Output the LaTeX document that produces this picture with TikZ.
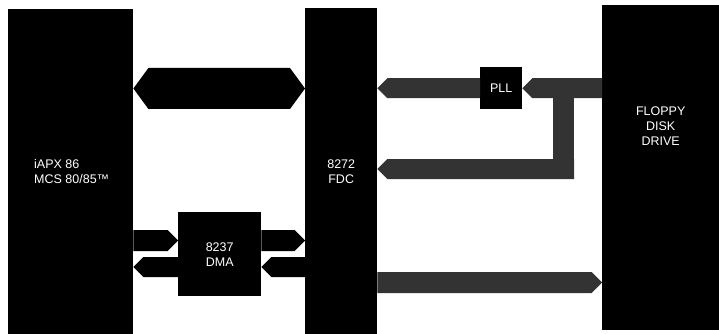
\documentclass[tikz,border=0pt]{standalone}
\usepackage{fontspec}
\setmainfont{Liberation Sans}
\usetikzlibrary{calc}
\newcommand{\lbl}{\fontsize{12.5}{15}\selectfont}
\tikzset{
  blk/.style={fill=black, inner sep=0pt, text=white, font=\lbl, align=center},
  inlbl/.style={text=white, font=\lbl, inner sep=0pt},
  onehead/.style={to path={let \p1=(\tikztostart), \p2=(\tikztotarget), \n1={sign(\x2-\x1)} in
      (\x1,\y1+#1) -- (\x2-\n1*#1,\y1+#1) -- (\x2,\y1) -- (\x2-\n1*#1,\y1-#1) -- (\x1,\y1-#1) -- cycle}},
  onehead/.default=10pt,
  twohead/.style 2 args={to path={let \p1=(\tikztostart), \p2=(\tikztotarget), \n1={sign(\x2-\x1)} in
      (\x1,\y1) -- (\x1+\n1*#2,\y1+#1) -- (\x2-\n1*#2,\y1+#1) -- (\x2,\y1)
      -- (\x2-\n1*#2,\y1-#1) -- (\x1+\n1*#2,\y1-#1) -- cycle}},
  dark/.style={fill=black},
  grey/.style={fill=black!80},
  trunk/.style={draw=black!80, line width=21pt},
}

\begin{document}
\begin{tikzpicture}[x=1pt, y=-1pt]
  \useasboundingbox (0,0) rectangle (719,334);
  % blocks
  \node[blk, anchor=north west, minimum width=125, minimum height=325,
    label={[inlbl, align=left, anchor=west, xshift=26]west:iAPX 86\\MCS 80/85™}] (cpu) at (8,9) {};
  \node[blk, anchor=north west, minimum width=72, minimum height=326] (fdc) at (305,8) {8272\\FDC};
  \node[blk, anchor=north west, minimum width=117, minimum height=325,
    label={[inlbl, align=center, anchor=north, yshift=-102]north:FLOPPY\\DISK\\DRIVE}] (fdd) at (602,5) {};
  \node[blk, anchor=north west, minimum width=83, minimum height=84] (dma) at (178,212) {8237\\DMA};
  \node[blk, anchor=north west, minimum width=42, minimum height=42] (pll) at (480,67) {PLL};
  % bus levels
  \coordinate (busrow) at (0,88.5);
  \coordinate (inrow) at (0,240.5);
  \coordinate (outrow) at (0,267);
  \coordinate (botrow) at (0,282.5);
  \coordinate (tap) at (563.5,88);
  \coordinate (tapA) at (574,169);
  % processor side
  \fill[dark, twohead={20.5pt}{15pt}] (cpu.east |- busrow) to (fdc.west |- busrow);
  \fill[dark, onehead=10.5pt] (cpu.east |- inrow) to (dma.west |- inrow);
  \fill[dark, onehead=10.5pt] (dma.east |- inrow) to (fdc.west |- inrow);
  \fill[dark, onehead=10pt] (fdc.west |- outrow) to (dma.east |- outrow);
  \fill[dark, onehead=10pt] (dma.west |- outrow) to (cpu.east |- outrow);
  % drive side
  \draw[trunk] (tap) -- (tap |- tapA);
  \fill[grey, onehead] (fdd.west |- pll) to (pll.east);
  \fill[grey, onehead] (pll.west) to (fdc.east |- pll);
  \fill[grey, onehead] (tapA) to (fdc.east |- tapA);
  \fill[grey, onehead=10.5pt] (fdc.east |- botrow) to (fdd.west |- botrow);
\end{tikzpicture}
\end{document}
